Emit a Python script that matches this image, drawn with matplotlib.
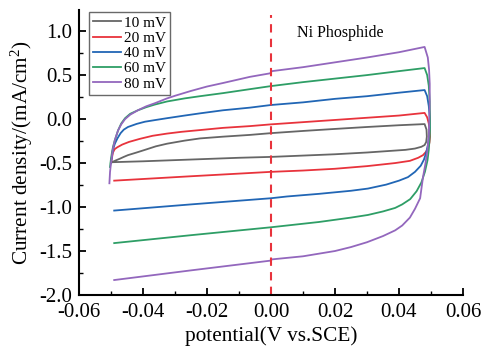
import matplotlib
matplotlib.use("Agg")
import matplotlib.pyplot as plt
from matplotlib.ticker import MultipleLocator

plt.rcParams['font.family'] = ['Liberation Serif', 'DejaVu Serif']
plt.rcParams['mathtext.fontset'] = 'custom'
plt.rcParams['mathtext.rm'] = 'Liberation Serif'
plt.rcParams['mathtext.it'] = 'Liberation Serif:italic'

labels = ["10 mV", "20 mV", "40 mV", "60 mV", "80 mV"]
colors = ["#666666", "#e8333c", "#2166b5", "#2e9e66", "#9367bd"]

# Each curve: anodic (upper) branch left->right, then cathodic (lower) branch right->left
x_10 = [-0.0500, -0.0497, -0.0485, -0.0472, -0.0460, -0.0447, -0.0420, -0.0394, -0.0360, -0.0325,
        -0.0270, -0.0222, -0.0150, -0.0066, 0.0000, 0.0100, 0.0200, 0.0300, 0.0400, 0.0480,
        0.0486, 0.0487, 0.0485, 0.0480, 0.0470, 0.0450, 0.0420, 0.0380, 0.0300, 0.0200,
        0.0100, 0.0000, -0.0100, -0.0250, -0.0400, -0.0495]
y_10 = [-0.50, -0.49, -0.47, -0.45, -0.43, -0.41, -0.38, -0.35, -0.31, -0.28,
        -0.245, -0.22, -0.20, -0.18, -0.16, -0.135, -0.112, -0.09, -0.07, -0.057,
        -0.12, -0.20, -0.26, -0.295, -0.315, -0.335, -0.35, -0.36, -0.38, -0.40,
        -0.415, -0.43, -0.44, -0.46, -0.48, -0.49]

x_20 = [-0.0500, -0.0497, -0.0494, -0.0488, -0.0480, -0.0465, -0.0444, -0.0410, -0.0370, -0.0325,
        -0.0280, -0.0222, -0.0150, -0.0066, 0.0000, 0.0100, 0.0200, 0.0300, 0.0400, 0.0480,
        0.0488, 0.0493, 0.0496, 0.0497, 0.0495, 0.0491, 0.0485, 0.0475, 0.0460, 0.0434,
        0.0388, 0.0300, 0.0200, 0.0100, 0.0000, -0.0250, -0.0490]
y_20 = [-0.50, -0.44, -0.38, -0.34, -0.32, -0.29, -0.26, -0.225, -0.19, -0.165,
        -0.145, -0.125, -0.10, -0.08, -0.06, -0.035, -0.01, 0.015, 0.04, 0.07,
        0.02, -0.05, -0.13, -0.20, -0.27, -0.32, -0.37, -0.41, -0.44, -0.475,
        -0.50, -0.535, -0.565, -0.585, -0.60, -0.65, -0.70]

x_40 = [-0.0500, -0.0497, -0.0494, -0.0488, -0.0480, -0.0470, -0.0460, -0.0447, -0.0420, -0.0394,
        -0.0360, -0.0325, -0.0270, -0.0222, -0.0150, -0.0066, 0.0000, 0.0100, 0.0200, 0.0300,
        0.0400, 0.0480,
        0.0488, 0.0493, 0.0496, 0.0496, 0.0494, 0.0490, 0.0485, 0.0478, 0.0468, 0.0450,
        0.0428, 0.0400, 0.0360, 0.0303, 0.0250, 0.0150, 0.0050, 0.0000, -0.0250, -0.0490]
y_40 = [-0.50, -0.42, -0.35, -0.28, -0.22, -0.16, -0.12, -0.09, -0.055, -0.03,
        -0.01, 0.01, 0.04, 0.065, 0.10, 0.13, 0.16, 0.19, 0.23, 0.26,
        0.30, 0.33,
        0.26, 0.15, 0.02, -0.10, -0.20, -0.30, -0.38, -0.46, -0.53, -0.60,
        -0.66, -0.70, -0.745, -0.79, -0.815, -0.85, -0.88, -0.90, -0.97, -1.04]

x_60 = [-0.0503, -0.0500, -0.0497, -0.0494, -0.0488, -0.0478, -0.0468, -0.0456, -0.0440, -0.0416,
        -0.0390, -0.0363, -0.0325, -0.0270, -0.0222, -0.0150, -0.0066, 0.0000, 0.0100, 0.0200,
        0.0300, 0.0400, 0.0480,
        0.0488, 0.0493, 0.0496, 0.0497, 0.0496, 0.0493, 0.0489, 0.0481, 0.0470, 0.0455,
        0.0435, 0.0410, 0.0388, 0.0350, 0.0303, 0.0250, 0.0150, 0.0050, 0.0000, -0.0250, -0.0490]
y_60 = [-0.545, -0.45, -0.38, -0.32, -0.24, -0.13, -0.05, 0.01, 0.06, 0.10,
        0.135, 0.165, 0.20, 0.235, 0.26, 0.295, 0.34, 0.375, 0.42, 0.46,
        0.50, 0.545, 0.58,
        0.50, 0.38, 0.20, 0.00, -0.20, -0.35, -0.47, -0.60, -0.72, -0.82,
        -0.91, -0.97, -1.01, -1.05, -1.09, -1.12, -1.17, -1.21, -1.23, -1.32, -1.41]

x_80 = [-0.0505, -0.0503, -0.0500, -0.0497, -0.0494, -0.0488, -0.0478, -0.0468, -0.0456, -0.0440,
        -0.0416, -0.0390, -0.0363, -0.0325, -0.0300, -0.0250, -0.0200, -0.0150, -0.0066, -0.0003,
        0.0003, 0.0100, 0.0200, 0.0300, 0.0400, 0.0480,
        0.0490, 0.0494, 0.0496, 0.0496, 0.0495, 0.0493, 0.0488, 0.0482, 0.0475, 0.0466,
        0.0450, 0.0434, 0.0410, 0.0388, 0.0350, 0.0300, 0.0250, 0.0200, 0.0100, 0.0003,
        -0.0003, -0.0250, -0.0490]
y_80 = [-0.73, -0.60, -0.50, -0.42, -0.34, -0.24, -0.13, -0.06, 0.00, 0.05,
        0.10, 0.145, 0.18, 0.235, 0.265, 0.32, 0.37, 0.41, 0.48, 0.52,
        0.545, 0.59, 0.645, 0.70, 0.76, 0.82,
        0.70, 0.56, 0.40, 0.20, 0.00, -0.20, -0.38, -0.52, -0.66, -0.90,
        -1.02, -1.12, -1.21, -1.265, -1.33, -1.40, -1.455, -1.50, -1.56, -1.595,
        -1.61, -1.72, -1.83]

xs = [x_10, x_20, x_40, x_60, x_80]
ys = [y_10, y_20, y_40, y_60, y_80]

fig = plt.figure(figsize=(4.89, 3.55), dpi=100)
ax = fig.add_axes([79/489, 1 - 295/355, (463-79)/489, (295-10)/355])

for x, y, c, l in zip(xs, ys, colors, labels):
    ax.plot(x, y, color=c, lw=1.3, label=l, solid_joinstyle='round')

ax.plot([0, 0], [-2.0, 1.18], color="#e8333c", lw=1.5, ls=(0, (4, 3)))
ax.text(0.0081, 0.977, "Ni Phosphide", fontsize=11.5, va='center', ha='left')

ax.set_xlim(-0.06, 0.06)
ax.set_ylim(-2.0, 1.24)
ax.xaxis.set_minor_locator(MultipleLocator(0.01))
ax.yaxis.set_minor_locator(MultipleLocator(0.25))
ax.set_xticks([-0.06, -0.04, -0.02, 0.0, 0.02, 0.04, 0.06])
ax.set_xticklabels(["-0.06", "-0.04", "-0.02", "0.00", "0.02", "0.04", "0.06"])
ax.set_yticks([-2.0, -1.5, -1.0, -0.5, 0.0, 0.5, 1.0])
ax.set_yticklabels(["-2.0", "-1.5", "-1.0", "-0.5", "0.0", "0.5", "1.0"])
ax.spines['top'].set_visible(False)
ax.spines['right'].set_visible(False)
for s in ['left', 'bottom']:
    ax.spines[s].set_linewidth(1.5)
ax.tick_params(which='major', direction='in', length=5, width=1.3, labelsize=15)
ax.tick_params(which='minor', direction='in', length=3, width=1.0)
ax.tick_params(axis='x', which='major', pad=6)
ax.tick_params(axis='y', which='major', pad=5)
ax.set_xlabel("potential(V vs.SCE)", fontsize=15.3, labelpad=3)
ax.set_ylabel("Current density/(mA/cm$^2$)", fontsize=15.3, labelpad=3)

leg = ax.legend(loc='upper left', bbox_to_anchor=(0.02, 1.0), fontsize=11, frameon=True, fancybox=False,
                edgecolor='#444444', handlelength=1.85, handletextpad=0.2, labelspacing=0.1,
                borderpad=0.25, borderaxespad=0.15)
leg.get_frame().set_linewidth(1.0)

fig.savefig("out.png", dpi=100)
